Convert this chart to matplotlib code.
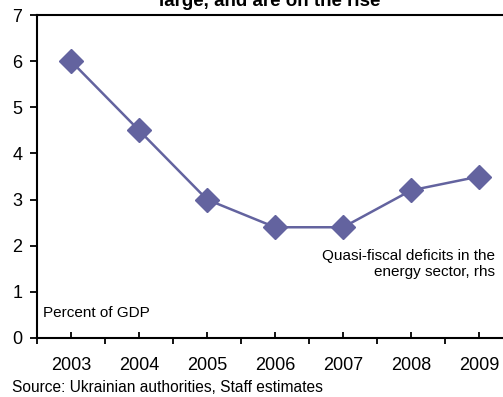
import matplotlib
matplotlib.use("Agg")
import matplotlib.pyplot as plt
import numpy as np

years = [2003, 2004, 2005, 2006, 2007, 2008, 2009]
deficits = [6.0, 4.5, 3.0, 2.4, 2.4, 3.2, 3.5]
yticks = [0, 1, 2, 3, 4, 5, 6, 7]

plt.rcParams['font.family'] = ['Liberation Sans', 'DejaVu Sans']

fig = plt.figure(figsize=(5.03, 3.97), dpi=100)
ax = fig.add_axes([37/503, 1-338/397, 1-37/503, (338-15)/397])

color = '#63639f'
ax.plot(years, deficits, color=color, lw=1.8, marker='D', ms=12.5,
        markerfacecolor=color, markeredgecolor=color, zorder=3, clip_on=False)

ax.set_xlim(2002.5, 2009.35)
ax.set_ylim(0, 7)
ax.set_yticks(yticks)
ax.set_yticklabels([str(v) for v in yticks], fontsize=13)
ax.set_xticks(years)
ax.set_xticklabels([str(y) for y in years], fontsize=13)
ax.set_xticks(np.arange(2002.5, 2009.4, 1.0), minor=True)

ax.tick_params(axis='x', which='major', direction='in', length=4.5, width=1.3, pad=14)
ax.tick_params(axis='x', which='minor', direction='out', length=4.5, width=1.3)
ax.tick_params(axis='y', which='major', direction='out', length=5, width=1.3, pad=5.5)

for s in ['left', 'bottom', 'top']:
    ax.spines[s].set_linewidth(1.5)
ax.spines['right'].set_visible(False)

ax.text(1-8/466, 1-(264-15)/323, "Quasi-fiscal deficits in the\nenergy sector, rhs",
        transform=ax.transAxes, ha='right', va='center', fontsize=11,
        linespacing=1.25)
ax.text(6/466, 1-(313-15)/323, "Percent of GDP", transform=ax.transAxes,
        ha='left', va='center', fontsize=11)

fig.text(270/503, 1-5.5/397, "large, and are on the rise", ha='center',
         va='baseline', fontsize=13.5, fontweight='bold')
fig.text(12/503, 1-392.5/397, "Source: Ukrainian authorities, Staff estimates",
         ha='left', va='baseline', fontsize=11.2)

fig.savefig("out.png", dpi=100)
